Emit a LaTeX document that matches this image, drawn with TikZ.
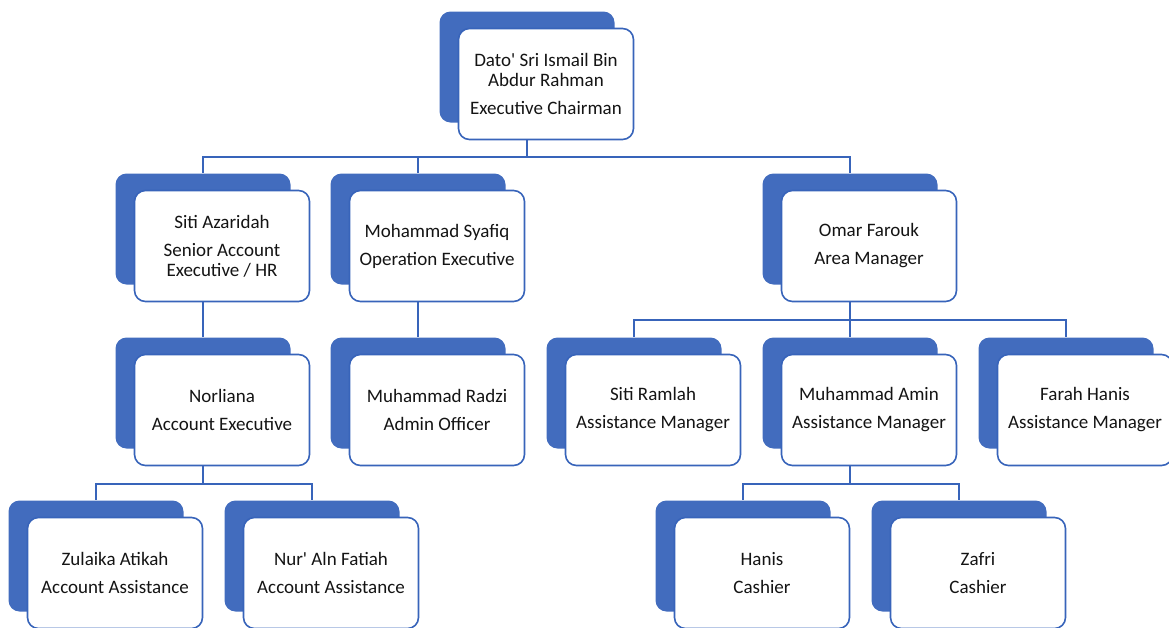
\documentclass[tikz,border=0pt]{standalone}
\usepackage{fontspec}
\setmainfont{Carlito}
\usetikzlibrary{shadows}
\definecolor{backblue}{RGB}{66,108,190}
\definecolor{edgeblue}{RGB}{56,100,186}
\definecolor{txt}{RGB}{20,20,20}
\tikzset{
  person/.style={draw=edgeblue, line width=1.6pt, fill=white, rounded corners=11pt,
    minimum width=175pt, minimum height=111pt, inner sep=0pt, align=center,
    text=txt, font=\fontsize{19}{20}\selectfont,
    general shadow={fill=backblue, draw=none, shadow xshift=-19pt, shadow yshift=17pt}},
  conn/.style={draw=edgeblue, line width=1.5pt}
}
\begin{document}
\begin{tikzpicture}[x=1pt,y=-1pt]
\useasboundingbox (0,0) rectangle (1169,627);
% row 1
\node[person] (chair) at (546,84) {Dato\textquotesingle{} Sri Ismail Bin\\Abdur Rahman\\[8pt]Executive Chairman};
% row 2
\node[person] (sitia) at (222,246) {Siti Azaridah\\[8pt]Senior Account\\Executive / HR};
\node[person] (syafiq) at (437,246) {Mohammad Syafiq\\[8pt]Operation Executive};
\node[person] (omar) at (869,246) {Omar Farouk\\[8pt]Area Manager};
% row 3
\node[person] (norliana) at (222,410) {Norliana\\[8pt]Account Executive};
\node[person] (radzi) at (437,410) {Muhammad Radzi\\[8pt]Admin Officer};
\node[person] (ramlah) at (653,410) {Siti Ramlah\\[8pt]Assistance Manager};
\node[person] (amin) at (869,410) {Muhammad Amin\\[8pt]Assistance Manager};
\node[person] (farah) at (1085,410) {Farah Hanis\\[8pt]Assistance Manager};
% row 4
\node[person] (zulaika) at (115,573) {Zulaika Atikah\\[8pt]Account Assistance};
\node[person] (nurain) at (331,573) {Nur\textquotesingle{} Aln Fatiah\\[8pt]Account Assistance};
\node[person] (hanis) at (762,573) {Hanis\\[8pt]Cashier};
\node[person] (zafri) at (978,573) {Zafri\\[8pt]Cashier};
% connectors
\foreach \c in {sitia,syafiq,omar}
  \draw[conn] ([xshift=-19pt]chair.south) -- ++(0,16.5) -| ([xshift=-19pt,yshift=17pt]\c.north);
\draw[conn] ([xshift=-19pt]sitia.south) -- ([xshift=-19pt,yshift=17pt]norliana.north);
\draw[conn] ([xshift=-19pt]syafiq.south) -- ([xshift=-19pt,yshift=17pt]radzi.north);
\foreach \c in {ramlah,amin,farah}
  \draw[conn] ([xshift=-19pt]omar.south) -- ++(0,17.5) -| ([xshift=-19pt,yshift=17pt]\c.north);
\foreach \c in {zulaika,nurain}
  \draw[conn] ([xshift=-19pt]norliana.south) -- ++(0,17.5) -| ([xshift=-19pt,yshift=17pt]\c.north);
\foreach \c in {hanis,zafri}
  \draw[conn] ([xshift=-19pt]amin.south) -- ++(0,17.5) -| ([xshift=-19pt,yshift=17pt]\c.north);
\end{tikzpicture}
\end{document}
